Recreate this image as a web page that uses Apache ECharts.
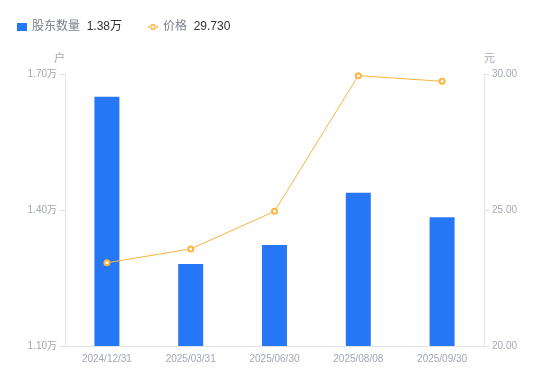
<!DOCTYPE html>
<html>
<head>
<meta charset="utf-8">
<script src="https://cdn.jsdelivr.net/npm/echarts@6/dist/echarts.min.js"></script>
<style>
  html, body { margin: 0; padding: 0; background: #fff; }
  #box { width: 550px; height: 381px; }
</style>
</head>
<body>
<div id="box"></div>
<script>
var dates = ['2024/12/31', '2025/03/31', '2025/06/30', '2025/08/08', '2025/09/30'];
// 股东数量 (万户)
var holders = [1.650, 1.281, 1.323, 1.438, 1.384];
// 价格 (元)
var prices = [23.06, 23.57, 24.95, 29.94, 29.73];

var legendValues = {
  '股东数量': '1.38万',
  '价格': '29.730'
};

// small line + ring icon for the price legend
var lineIcon = 'path://M0,3.3 L3,3.3 L3,4.7 L0,4.7 Z M7,3.3 L10,3.3 L10,4.7 L7,4.7 Z ' +
  'M8,4 A3,3 0 1 0 2,4 A3,3 0 1 0 8,4 Z M6.5,4 A1.5,1.5 0 1 1 3.5,4 A1.5,1.5 0 1 1 6.5,4 Z';

var chart = echarts.init(document.getElementById('box'));

var option = {
  animation: false,
  textStyle: { fontFamily: '"Liberation Sans", "Noto Sans CJK SC", sans-serif' },
  legend: {
    left: 12,
    top: 16,
    itemGap: 26,
    itemWidth: 10,
    itemHeight: 8,
    data: [
      { name: '股东数量', icon: 'rect' },
      { name: '价格', icon: lineIcon, itemStyle: { color: '#fbb43e', borderWidth: 0 } }
    ],
    formatter: function (name) {
      return '{n|' + name + '}  {v|' + legendValues[name] + '}';
    },
    textStyle: {
      rich: {
        n: { color: '#7c7f8c', fontSize: 12 },
        v: { color: '#333333', fontSize: 12 }
      }
    }
  },
  grid: {
    left: 65,
    right: 66,
    top: 74,
    bottom: 35
  },
  xAxis: {
    type: 'category',
    data: dates,
    axisLine: { lineStyle: { color: '#e3e3e6' } },
    axisTick: { show: false },
    axisLabel: { color: '#a3a6b4', fontSize: 10, margin: 8 }
  },
  yAxis: [
    {
      type: 'value',
      name: '户',
      min: 1.1,
      max: 1.7,
      interval: 0.3,
      nameGap: 10,
      nameTextStyle: { color: '#a3a6b4', fontSize: 11, align: 'right' },
      axisLine: { show: true, lineStyle: { color: '#e3e3e6' } },
      axisTick: { show: true, length: 5, lineStyle: { color: '#e3e3e6' } },
      splitLine: { show: false },
      axisLabel: {
        color: '#a3a6b4',
        fontSize: 10,
        margin: 8,
        formatter: function (v) { return v.toFixed(2) + '万'; }
      }
    },
    {
      type: 'value',
      name: '元',
      min: 20,
      max: 30,
      interval: 5,
      nameGap: 10,
      nameTextStyle: { color: '#a3a6b4', fontSize: 11, align: 'left' },
      axisLine: { show: true, lineStyle: { color: '#e3e3e6' } },
      axisTick: { show: true, length: 5, lineStyle: { color: '#e3e3e6' } },
      splitLine: { show: false },
      axisLabel: {
        color: '#a3a6b4',
        fontSize: 10,
        margin: 8,
        formatter: function (v) { return v.toFixed(2); }
      }
    }
  ],
  series: [
    {
      name: '股东数量',
      type: 'bar',
      yAxisIndex: 0,
      barWidth: 25,
      itemStyle: { color: '#2677f5' },
      data: holders
    },
    {
      name: '价格',
      type: 'line',
      yAxisIndex: 1,
      symbol: 'emptyCircle',
      symbolSize: 5,
      lineStyle: { color: '#fbb43e', width: 1 },
      itemStyle: { color: '#fbb43e', borderWidth: 1.5 },
      data: prices
    }
  ]
};

chart.setOption(option);
</script>
</body>
</html>
